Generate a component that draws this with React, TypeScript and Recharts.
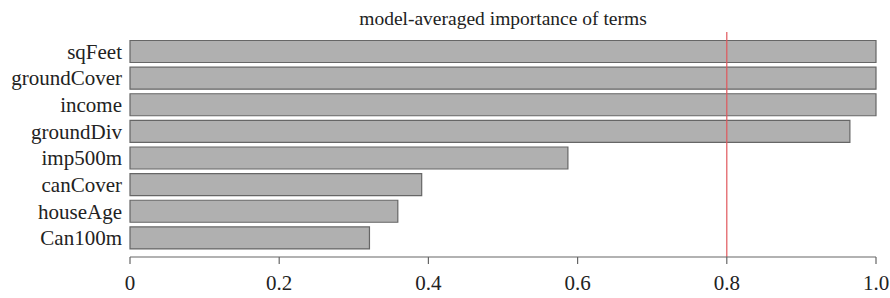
import React from "react";
import { BarChart, Bar, XAxis, YAxis, ReferenceLine } from "recharts";

const terms = ["sqFeet", "groundCover", "income", "groundDiv", "imp500m", "canCover", "houseAge", "Can100m"];
const importance = [1.0, 1.0, 1.0, 0.965, 0.587, 0.391, 0.359, 0.321];
const xTicks = [0, 0.2, 0.4, 0.6, 0.8, 1.0];
const xTickLabels = ["0", "0.2", "0.4", "0.6", "0.8", "1.0"];
const threshold = 0.8;
const title = "model-averaged importance of terms";

const data = terms.map((t, i) => ({ term: t, value: importance[i] }));

const FONT = "'Liberation Serif', 'Times New Roman', serif";

export default function App() {
  return (
    <div style={{ position: "absolute", left: 0, top: 0, width: 890, height: 298, background: "#fff", fontFamily: FONT }}>
      <div
        style={{
          position: "absolute",
          left: 130,
          width: 746,
          top: 9,
          textAlign: "center",
          fontSize: 19.5,
          color: "#222",
          lineHeight: "20px",
          whiteSpace: "nowrap",
        }}
      >
        {title}
      </div>
      <BarChart
        width={890}
        height={298}
        data={data}
        layout="vertical"
        margin={{ top: 32, right: 14, bottom: 0, left: 0 }}
        barCategoryGap={2.5}
      >
        <XAxis
          type="number"
          domain={[0, 1]}
          ticks={xTicks}
          tickFormatter={(v: number) => xTickLabels[xTicks.indexOf(v)] ?? String(v)}
          height={41}
          tickSize={7}
          tickMargin={11}
          axisLine={{ stroke: "#666", strokeWidth: 1.2 }}
          tickLine={{ stroke: "#666", strokeWidth: 1.2 }}
          tick={{ fill: "#222", fontSize: 21, fontFamily: FONT }}
          allowDecimals
        />
        <YAxis
          type="category"
          dataKey="term"
          width={130}
          axisLine={false}
          tickLine={false}
          tickSize={0}
          tickMargin={8}
          padding={{ top: 6, bottom: 6 }}
          tick={{ fill: "#222", fontSize: 21, fontFamily: FONT }}
          interval={0}
        />
        <Bar dataKey="value" fill="#b0b0b0" stroke="#666" strokeWidth={1.2} isAnimationActive={false} />
        <ReferenceLine x={threshold} stroke="#e0575c" strokeWidth={1.2} ifOverflow="extendDomain" />
      </BarChart>
    </div>
  );
}
